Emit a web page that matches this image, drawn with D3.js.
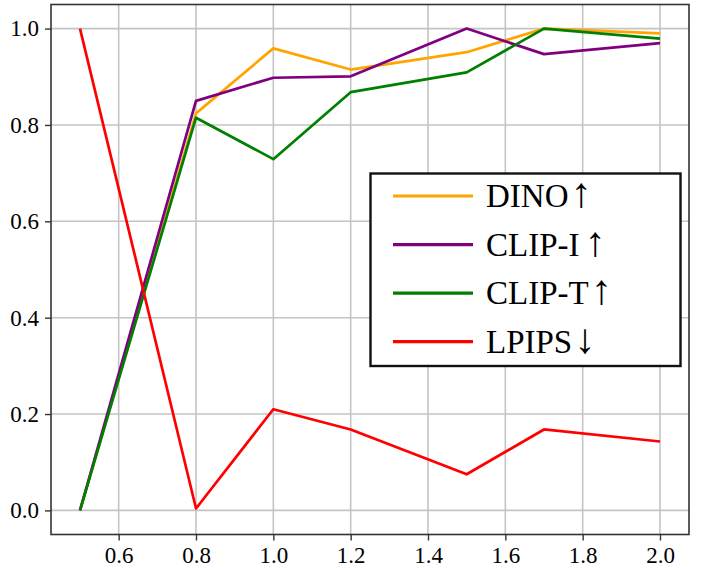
<!DOCTYPE html>
<html>
<head>
<meta charset="utf-8">
<script src="https://cdn.jsdelivr.net/npm/d3@7"></script>
<style>
  body { margin: 0; background: #fff; }
</style>
</head>
<body>
<svg id="chart" width="706" height="570"></svg>
<script>
// data
const xs     = [0.5, 0.8, 1.0, 1.2, 1.5, 1.7, 2.0];
const dino   = [0.0, 0.824, 0.959, 0.915, 0.951, 1.0, 0.99];
const clipI  = [0.0, 0.85, 0.898, 0.901, 1.0, 0.947, 0.97];
const clipT  = [0.0, 0.815, 0.729, 0.868, 0.909, 1.0, 0.979];
const lpips  = [1.0, 0.004, 0.21, 0.168, 0.075, 0.168, 0.143];
const names  = ["DINO", "CLIP-I", "CLIP-T", "LPIPS"];
const arrows = ["\u2191", "\u2191", "\u2191", "\u2193"];
const colors = ["#ffa500", "#800080", "#008000", "#ff0000"];
const xTicks = [0.6, 0.8, 1.0, 1.2, 1.4, 1.6, 1.8, 2.0];
const yTicks = [0.0, 0.2, 0.4, 0.6, 0.8, 1.0];

const FONT = "'Liberation Serif', 'Times New Roman', serif";

const series = [dino, clipI, clipT, lpips].map((vals, i) => ({
  name: names[i], arrow: arrows[i], color: colors[i],
  pts: vals.map((v, j) => [xs[j], v])
}));

const svg = d3.select("#chart");
const L = 51, R = 689, T = 4.5, B = 534.5;

const x = d3.scaleLinear().domain([0.425, 2.075]).range([L, R]);
const y = d3.scaleLinear().domain([-0.05, 1.05]).range([B, T]);

// grid
const grid = svg.append("g").attr("stroke", "#c4c4c4").attr("stroke-width", 1.6);
grid.selectAll("line.gx").data(xTicks).join("line")
  .attr("x1", d => x(d)).attr("x2", d => x(d)).attr("y1", T).attr("y2", B);
grid.selectAll("line.gy").data(yTicks).join("line")
  .attr("y1", d => y(d)).attr("y2", d => y(d)).attr("x1", L).attr("x2", R);

// lines
const line = d3.line().x(d => x(d[0])).y(d => y(d[1]));
svg.append("g").selectAll("path").data(series).join("path")
  .attr("fill", "none")
  .attr("stroke", d => d.color)
  .attr("stroke-width", 2.7)
  .attr("stroke-linejoin", "round")
  .attr("d", d => line(d.pts));

// axes
const xAxis = svg.append("g").attr("transform", `translate(0,${B})`)
  .call(d3.axisBottom(x).tickValues(xTicks).tickFormat(d3.format(".1f")).tickSize(6).tickPadding(6));
const yAxis = svg.append("g").attr("transform", `translate(${L},0)`)
  .call(d3.axisLeft(y).tickValues(yTicks).tickFormat(d3.format(".1f")).tickSize(6).tickPadding(6));
[xAxis, yAxis].forEach(a => {
  a.attr("font-family", FONT).attr("font-size", 23);
  a.select(".domain").remove();
  a.selectAll(".tick line").attr("stroke", "#333").attr("stroke-width", 1.4);
  a.selectAll(".tick text").attr("fill", "#000").style("font-family", FONT);
});

// frame
svg.append("rect").attr("x", L).attr("y", T).attr("width", R - L).attr("height", B - T)
  .attr("fill", "none").attr("stroke", "#333").attr("stroke-width", 1.6);

// legend
const lg = svg.append("g").attr("font-family", FONT);
lg.append("rect").attr("x", 370.5).attr("y", 173.5).attr("width", 310).attr("height", 192.5)
  .attr("fill", "#fff").attr("stroke", "#111").attr("stroke-width", 2.4);
const rowY = d3.scalePoint().domain(names).range([196, 341.7]);
const item = lg.selectAll("g.item").data(series).join("g")
  .attr("transform", d => `translate(0,${rowY(d.name)})`);
item.append("line").attr("x1", 393).attr("x2", 473)
  .attr("stroke", d => d.color).attr("stroke-width", 3.2);
const label = item.append("text").attr("x", 486).attr("y", 11).attr("font-size", 33);
label.append("tspan").text(d => d.name);
label.append("tspan").attr("dx", d => d.name === "CLIP-I" ? 5 : 2)
  .attr("font-size", 42).attr("font-weight", 300).text(d => d.arrow);
</script>
</body>
</html>
